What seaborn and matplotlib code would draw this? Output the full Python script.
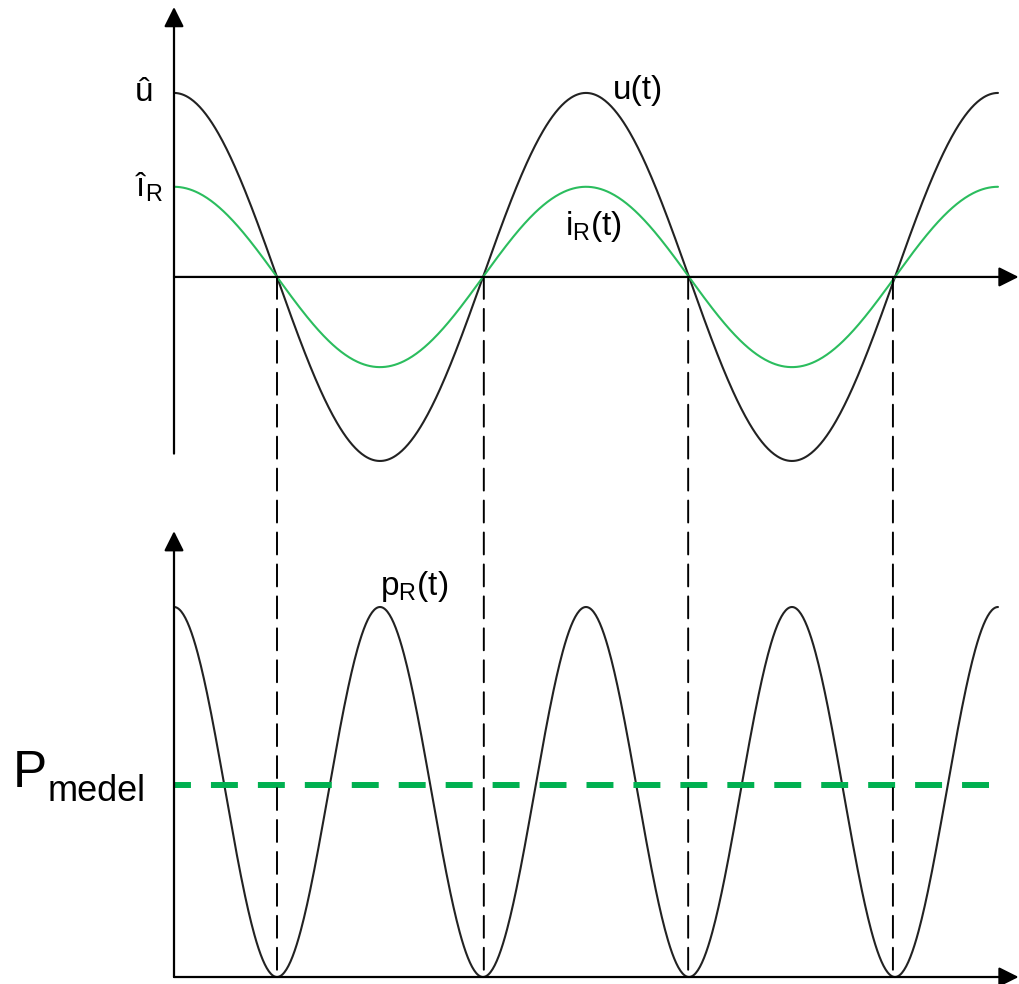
import numpy as np
import pandas as pd
import seaborn as sns
import matplotlib.pyplot as plt
from matplotlib.patches import ConnectionPatch

# values (time in periods of u, amplitudes relative to û)
u_amp = 1.0
i_amp = 0.49
p_peak = 1.0
p_medel = 0.519
t_end = 2.0
zero_crossings = [0.25, 0.752, 1.248, 1.745]

sns.set_style('white')
plt.rcParams['font.family'] = ['Liberation Sans', 'DejaVu Sans']
plt.rcParams['mathtext.fontset'] = 'custom'
plt.rcParams['mathtext.rm'] = 'Liberation Sans'
plt.rcParams['mathtext.it'] = 'Liberation Sans:italic'
plt.rcParams['lines.scale_dashes'] = False
plt.rcParams['text.color'] = 'black'

BLACK = '#222222'
GREEN_CURVE = '#2bbd5e'
GREEN_DASH = '#00b050'

# sampled waveforms
t = np.linspace(0, t_end, 800)
waves = pd.DataFrame({
    't': t,
    'u': u_amp * np.cos(2 * np.pi * t),
    'i': i_amp * np.cos(2 * np.pi * t),
    'p': p_peak * np.cos(2 * np.pi * t) ** 2,
})

fig = plt.figure(figsize=(10.2, 9.84), dpi=100)
ax_top = fig.add_axes([0.17059, 0.53902, 0.83206, 0.45386])
ax_bot = fig.add_axes([0.17059, 0.00711, 0.83206, 0.45310])

x_max = 2.06
ax_top.set_xlim(0, x_max)
ax_top.set_ylim(-0.96, 1.467)
ax_bot.set_xlim(0, x_max)
ax_bot.set_ylim(0, 1.205)
for ax in (ax_top, ax_bot):
    ax.axis('off')

arrow = dict(arrowstyle='-|>,head_length=0.6,head_width=0.3', color='black',
             lw=1.6, mutation_scale=20, shrinkA=0, shrinkB=0)


def draw_axes(ax, y_low, y_high, y_zero):
    ax.annotate('', xy=(0, y_high), xytext=(0, y_low), arrowprops=arrow,
                annotation_clip=False)
    ax.annotate('', xy=(2.05, y_zero), xytext=(0, y_zero), arrowprops=arrow,
                annotation_clip=False)


draw_axes(ax_top, -0.96, 1.467, 0)
draw_axes(ax_bot, 0, 1.205, 0)

# top panel: voltage and current
sns.lineplot(data=waves, x='t', y='u', ax=ax_top, color=BLACK, lw=1.5, clip_on=False)
sns.lineplot(data=waves, x='t', y='i', ax=ax_top, color=GREEN_CURVE, lw=1.5, clip_on=False)

# bottom panel: instantaneous and mean power
sns.lineplot(data=waves, x='t', y='p', ax=ax_bot, color=BLACK, lw=1.5, clip_on=False)
ax_bot.plot([0, 2.02], [p_medel, p_medel], color=GREEN_DASH, lw=4.3,
            linestyle=(7.2, (19.4, 14.4)), solid_capstyle='butt')

# dashed guides at the zero crossings
for tz in zero_crossings:
    con = ConnectionPatch(xyA=(tz, 0), coordsA=ax_top.transData,
                          xyB=(tz, 0), coordsB=ax_bot.transData,
                          color='black', lw=1.4, linestyle=(0, (15.8, 7.2)))
    fig.add_artist(con)

for ax in (ax_top, ax_bot):
    ax.set_xlabel('')
    ax.set_ylabel('')

fs = 24
ax_top.text(-0.051, 0.957, 'û', fontsize=fs, ha='right', va='baseline')
ax_top.text(-0.027, 0.435, r'î$_\mathrm{R}$', fontsize=fs, ha='right', va='baseline')
ax_top.text(1.066, 0.967, 'u(t)', fontsize=fs, ha='left', va='baseline')
ax_top.text(0.949, 0.228, r'i$_\mathrm{R}$(t)', fontsize=fs, ha='left', va='baseline')
ax_bot.text(0.50, 1.032, r'p$_\mathrm{R}$(t)', fontsize=fs, ha='left', va='baseline')
ax_bot.text(-0.391, 0.514, 'P', fontsize=37, ha='left', va='baseline')
ax_bot.text(-0.306, 0.476, 'medel', fontsize=26, ha='left', va='baseline')

fig.savefig('out.png', dpi=100)
